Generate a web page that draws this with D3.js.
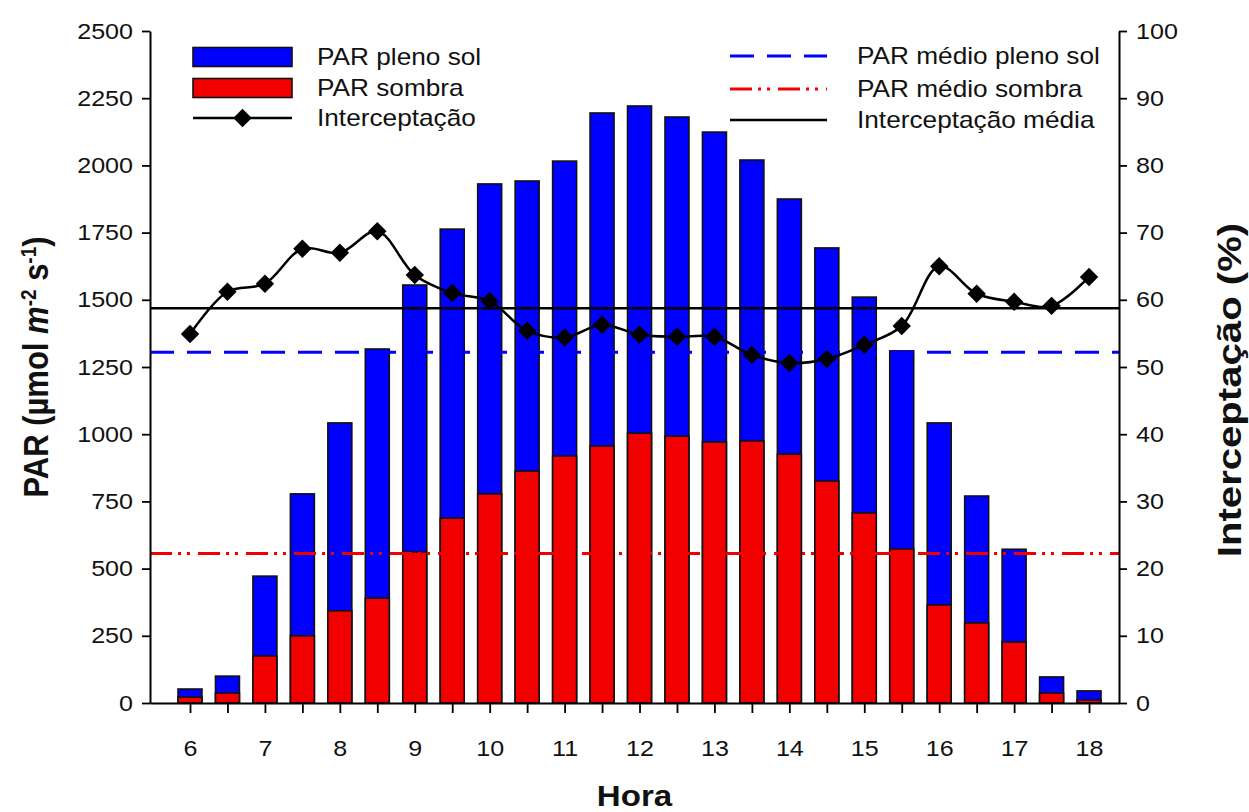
<!DOCTYPE html>
<html>
<head>
<meta charset="utf-8">
<script src="https://cdn.jsdelivr.net/npm/d3@7"></script>
<style>
  html, body { margin: 0; padding: 0; background: #fff; }
  svg { display: block; font-family: "Liberation Sans", Arial, sans-serif; }
</style>
</head>
<body>
<svg id="chart" width="1249" height="812"></svg>
<script>
// Hourly readings, 6h to 18h every half hour
const hours = [6, 6.5, 7, 7.5, 8, 8.5, 9, 9.5, 10, 10.5, 11, 11.5, 12,
               12.5, 13, 13.5, 14, 14.5, 15, 15.5, 16, 16.5, 17, 17.5, 18];

// PAR in full sun (µmol m-2 s-1)
const parPlenoSol = [52, 100, 472, 778, 1042, 1317, 1555, 1763, 1931, 1942, 2016, 2195, 2221,
                     2180, 2124, 2020, 1875, 1693, 1510, 1310, 1042, 770, 572, 97, 45];

// PAR in the shade (µmol m-2 s-1)
const parSombra = [22, 37, 175, 250, 343, 390, 562, 688, 778, 863, 919, 956, 1004,
                   993, 971, 975, 926, 826, 707, 573, 365, 298, 227, 37, 11];

// Light interception (%)
const interceptacao = [54.9, 61.2, 62.4, 67.6, 67.0, 70.2, 63.7, 61.0, 59.8, 55.4, 54.4, 56.3, 54.8,
                       54.5, 54.5, 51.8, 50.6, 51.2, 53.3, 56.1, 65.0, 60.9, 59.7, 59.1, 63.4];

const parTicks = [0, 250, 500, 750, 1000, 1250, 1500, 1750, 2000, 2250, 2500];
const pctTicks = [0, 10, 20, 30, 40, 50, 60, 70, 80, 90, 100];
const hourTicks = hours;
const hourLabels = [6, 7, 8, 9, 10, 11, 12, 13, 14, 15, 16, 17, 18];

const legendLeft = ["PAR pleno sol", "PAR sombra", "Interceptação"];
const legendRight = ["PAR médio pleno sol", "PAR médio sombra", "Interceptação média"];

const BLUE = "#0000ff";
const RED = "#f20000";
const INK = "#111";

const svg = d3.select("#chart");
const plotL = 150, plotR = 1119, plotT = 31, plotB = 703;

const x = d3.scaleLinear().domain([5.466, 18.4]).range([plotL, plotR]);
const yPar = d3.scaleLinear().domain([0, 2500]).range([plotB, plotT]);
const yPct = d3.scaleLinear().domain([0, 100]).range([plotB, plotT]);

const barW = x(6.16) - x(5.84);

const rows = hours.map((h, i) => ({ h, sol: parPlenoSol[i], sombra: parSombra[i], pct: interceptacao[i] }));

// Bars: full-sun bar behind, shade bar in front
const bars = svg.append("g");
bars.selectAll("rect.sol").data(rows).join("rect")
  .attr("class", "sol")
  .attr("x", d => x(d.h) - barW / 2)
  .attr("width", barW)
  .attr("y", d => yPar(d.sol))
  .attr("height", d => yPar(0) - yPar(d.sol))
  .attr("fill", BLUE).attr("stroke", INK).attr("stroke-width", 1.6);
bars.selectAll("rect.sombra").data(rows).join("rect")
  .attr("class", "sombra")
  .attr("x", d => x(d.h) - barW / 2)
  .attr("width", barW)
  .attr("y", d => yPar(d.sombra))
  .attr("height", d => yPar(0) - yPar(d.sombra))
  .attr("fill", RED).attr("stroke", INK).attr("stroke-width", 1.6);

// Mean reference lines
const meanSol = d3.mean(parPlenoSol);
const meanSombra = d3.mean(parSombra);
const meanPct = d3.mean(interceptacao);

const DASH_SOL = "24,13";
const DASH_SOMBRA = "22,6,3,6,3,8";

svg.append("line")
  .attr("x1", plotL).attr("x2", plotR)
  .attr("y1", yPar(meanSol)).attr("y2", yPar(meanSol))
  .attr("stroke", BLUE).attr("stroke-width", 3).attr("stroke-dasharray", DASH_SOL);
svg.append("line")
  .attr("x1", plotL).attr("x2", plotR)
  .attr("y1", yPar(meanSombra)).attr("y2", yPar(meanSombra))
  .attr("stroke", RED).attr("stroke-width", 3).attr("stroke-dasharray", DASH_SOMBRA);
svg.append("line")
  .attr("x1", plotL).attr("x2", plotR)
  .attr("y1", yPct(meanPct)).attr("y2", yPct(meanPct))
  .attr("stroke", "#000").attr("stroke-width", 2.5);

// Interception curve with diamond markers
const line = d3.line().x(d => x(d.h)).y(d => yPct(d.pct)).curve(d3.curveCatmullRom.alpha(0.5));
svg.append("path").datum(rows)
  .attr("d", line).attr("fill", "none").attr("stroke", "#000").attr("stroke-width", 2.5);

const diamond = d3.symbol(d3.symbolSquare, 170);
svg.append("g").selectAll("path").data(rows).join("path")
  .attr("d", diamond)
  .attr("transform", d => `translate(${x(d.h)},${yPct(d.pct)}) rotate(45)`)
  .attr("fill", "#000");

// Text is drawn slightly wide (horizontal stretch) like the original typesetting
const STRETCH = 1.14;
const tickFont = 22;

function styleAxis(g, anchorShift) {
  g.selectAll(".domain").attr("stroke", "#000").attr("stroke-width", 2);
  g.selectAll(".tick line").attr("stroke", "#000").attr("stroke-width", 1.8);
  g.selectAll(".tick text")
    .attr("font-size", tickFont).attr("fill", INK)
    .attr("font-family", "'Liberation Sans', Arial, sans-serif")
    .each(function () {
      const t = d3.select(this);
      const tx = +t.attr("x") || 0;
      t.attr("x", (tx + anchorShift) / STRETCH).attr("transform", `scale(${STRETCH},1)`);
    });
}

svg.append("g").attr("transform", `translate(${plotL},0)`)
  .call(d3.axisLeft(yPar).tickValues(parTicks).tickSize(8).tickPadding(9).tickSizeOuter(0)
    .tickFormat(d3.format("d")))
  .call(g => styleAxis(g, 0));

svg.append("g").attr("transform", `translate(${plotR},0)`)
  .call(d3.axisRight(yPct).tickValues(pctTicks).tickSize(8).tickPadding(9).tickSizeOuter(0)
    .tickFormat(d3.format("d")))
  .call(g => styleAxis(g, 0));

svg.append("g").attr("transform", `translate(0,${plotB})`)
  .call(d3.axisBottom(x).tickValues(hourTicks).tickSize(10).tickPadding(27).tickSizeOuter(0)
    .tickFormat(d => hourLabels.includes(d) ? d : ""))
  .call(g => styleAxis(g, 0));

// Horizontal text helper (stretched)
function label(parent, tx, ty, txt, size, opts = {}) {
  return parent.append("text")
    .attr("transform", `translate(${tx},${ty}) scale(${STRETCH},1)`)
    .attr("text-anchor", opts.anchor || "start")
    .attr("dy", opts.dy || null)
    .attr("font-size", size)
    .attr("font-weight", opts.bold ? "bold" : null)
    .attr("fill", INK)
    .text(txt);
}

// Axis titles
const yTitle = svg.append("text")
  .attr("transform", `translate(48,${(plotT + plotB) / 2}) rotate(-90) scale(1,${STRETCH})`)
  .attr("text-anchor", "middle")
  .attr("font-size", 31).attr("font-weight", "bold").attr("fill", INK);
yTitle.append("tspan").text("PAR (µmol ");
yTitle.append("tspan").attr("font-style", "italic").text("m");
yTitle.append("tspan").attr("font-size", 19).attr("baseline-shift", "super").text("-2");
yTitle.append("tspan").text(" s");
yTitle.append("tspan").attr("font-size", 19).attr("baseline-shift", "super").text("-1");
yTitle.append("tspan").text(")");

svg.append("text")
  .attr("transform", `translate(1241,390) rotate(-90) scale(1.18,1)`)
  .attr("text-anchor", "middle")
  .attr("font-size", 34).attr("font-weight", "bold").attr("fill", INK)
  .text("Interceptação (%)");

label(svg, (plotL + plotR) / 2, 806, "Hora", 29, { anchor: "middle", bold: true });

// Legend (left block)
const lgL = svg.append("g");
const lgRowsL = [57, 88, 118];
const swX = 193, swW = 99;
lgL.append("rect").attr("x", swX).attr("y", lgRowsL[0] - 9.5).attr("width", swW).attr("height", 19)
  .attr("fill", BLUE).attr("stroke", INK).attr("stroke-width", 1.6);
lgL.append("rect").attr("x", swX).attr("y", lgRowsL[1] - 9.5).attr("width", swW).attr("height", 19)
  .attr("fill", RED).attr("stroke", INK).attr("stroke-width", 1.6);
lgL.append("line").attr("x1", swX).attr("x2", swX + swW).attr("y1", lgRowsL[2]).attr("y2", lgRowsL[2])
  .attr("stroke", "#000").attr("stroke-width", 2.5);
lgL.append("path").attr("d", diamond)
  .attr("transform", `translate(${swX + swW / 2},${lgRowsL[2]}) rotate(45)`).attr("fill", "#000");
legendLeft.forEach((t, i) => label(lgL, 317, lgRowsL[i], t, 23, { dy: "0.35em" }));

// Legend (right block)
const lgR = svg.append("g");
const lgRowsR = [56, 89, 120];
const swX2 = 730, swW2 = 97;
lgR.append("line").attr("x1", swX2).attr("x2", swX2 + swW2).attr("y1", lgRowsR[0]).attr("y2", lgRowsR[0])
  .attr("stroke", BLUE).attr("stroke-width", 3).attr("stroke-dasharray", DASH_SOL);
lgR.append("line").attr("x1", swX2).attr("x2", swX2 + swW2).attr("y1", lgRowsR[1]).attr("y2", lgRowsR[1])
  .attr("stroke", RED).attr("stroke-width", 3).attr("stroke-dasharray", DASH_SOMBRA);
lgR.append("line").attr("x1", swX2).attr("x2", swX2 + swW2).attr("y1", lgRowsR[2]).attr("y2", lgRowsR[2])
  .attr("stroke", "#000").attr("stroke-width", 2.5);
legendRight.forEach((t, i) => label(lgR, 857, lgRowsR[i], t, 23, { dy: "0.35em" }));
</script>
</body>
</html>
